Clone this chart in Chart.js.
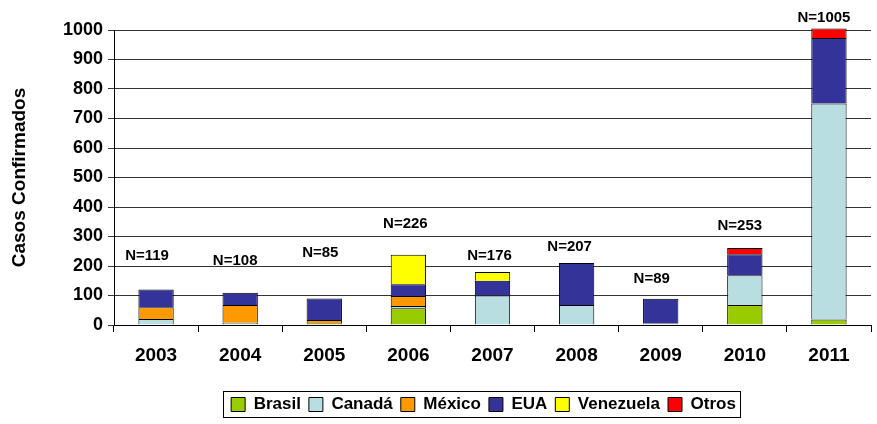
<!DOCTYPE html>
<html>
<head>
<meta charset="utf-8">
<script src="https://cdn.jsdelivr.net/npm/chart.js@4.4.1/dist/chart.umd.min.js"></script>
<style>
  html, body { margin: 0; padding: 0; background: #fff; }
  #wrap { width: 877px; height: 424px; }
</style>
</head>
<body>
<div id="wrap"><canvas id="c" width="877" height="424"></canvas></div>
<script>
const years = ['2003', '2004', '2005', '2006', '2007', '2008', '2009', '2010', '2011'];
const brasil    = [0, 0, 6, 57, 0, 0, 0, 68, 19];
const canada    = [20, 8, 0, 7, 100, 68, 5, 101, 732];
const mexico    = [40, 60, 11, 34, 0, 0, 0, 0, 0];
const eua       = [60, 41, 73, 40, 50, 142, 84, 71, 222];
const venezuela = [0, 0, 0, 100, 30, 0, 0, 0, 0];
const otros     = [0, 0, 0, 0, 0, 0, 0, 21, 32];
const nCases    = [119, 108, 85, 226, 176, 207, 89, 253, 1005];
const yTicks    = [0, 100, 200, 300, 400, 500, 600, 700, 800, 900, 1000];

const FONT = '"Liberation Sans", Arial, sans-serif';

const nLabelPlugin = {
  id: 'nLabels',
  afterDatasetsDraw(chart, args, opts) {
    const ctx = chart.ctx;
    const x = chart.scales.x, y = chart.scales.y;
    ctx.save();
    ctx.font = 'bold 15px ' + FONT;
    ctx.fillStyle = '#000';
    ctx.textAlign = 'center';
    ctx.textBaseline = 'middle';
    nCases.forEach((n, i) => {
      let total = 0;
      chart.data.datasets.forEach(ds => { total += ds.data[i]; });
      const px = x.getPixelForValue(i) + opts.dx[i];
      const py = y.getPixelForValue(total) - opts.dy[i];
      ctx.fillText('N=' + n, px, py);
    });
    ctx.restore();
  }
};

const legendBoxPlugin = {
  id: 'legendBox',
  afterLayout(chart, args, opts) {
    const lg = chart.legend;
    if (!lg) return;
    lg.left += opts.shift;
    lg.right += opts.shift;
  },
  afterDraw(chart) {
    const hb = chart.legend && chart.legend.legendHitBoxes;
    if (!hb || !hb.length) return;
    let l = Infinity, r = -Infinity, t = Infinity, b = -Infinity;
    hb.forEach(h => { l = Math.min(l, h.left); r = Math.max(r, h.left + h.width); t = Math.min(t, h.top); b = Math.max(b, h.top + h.height); });
    const ctx = chart.ctx;
    ctx.save();
    ctx.strokeStyle = '#000';
    ctx.lineWidth = 1;
    ctx.strokeRect(Math.round(l - 8) + 0.5, Math.round(t - 5) + 0.5, Math.round(r - l + 12), Math.round(b - t + 9));
    ctx.restore();
  }
};

const mk = (label, data, color) => ({
  label, data, backgroundColor: color, borderColor: '#000', borderWidth: 1, clip: false
});

new Chart(document.getElementById('c'), {
  type: 'bar',
  data: {
    labels: years,
    datasets: [
      mk('Brasil', brasil, '#99CC00'),
      mk('Canadá', canada, '#B8DEE2'),
      mk('México', mexico, '#FF9900'),
      mk('EUA', eua, '#333399'),
      mk('Venezuela', venezuela, '#FFFF00'),
      mk('Otros', otros, '#FF0000')
    ]
  },
  plugins: [nLabelPlugin, legendBoxPlugin],
  options: {
    responsive: false,
    animation: false,
    devicePixelRatio: 1,
    layout: { padding: { top: 30, right: 6, left: 0, bottom: 1 } },
    datasets: { bar: { categoryPercentage: 1, barPercentage: 0.42 } },
    plugins: {
      title: { display: false },
      tooltip: { enabled: false },
      legendBox: { shift: 48 },
      nLabels: {
        dx: [-9, -5, -4, -3, -3, -7, -9, -5, -5],
        dy: [34, 32, 46, 31, 16, 16, 20, 22, 11]
      },
      legend: {
        position: 'bottom',
        labels: {
          color: '#000',
          font: { family: FONT, size: 17, weight: 'bold' },
          boxWidth: 14, boxHeight: 14, padding: 8
        }
      }
    },
    scales: {
      x: {
        stacked: true,
        offset: true,
        grid: { display: true, offset: true, drawOnChartArea: false, drawTicks: true, tickLength: 7, color: '#000' },
        border: { display: true, color: '#000', width: 1 },
        ticks: { color: '#000', font: { family: FONT, size: 19, weight: 'bold' }, padding: 12, maxRotation: 0 },
        afterFit(s) { s.height = 63; }
      },
      y: {
        stacked: true,
        min: 0, max: 1000,
        afterBuildTicks(s) { s.ticks = yTicks.map(v => ({ value: v })); },
        grid: { color: '#333', lineWidth: 1, drawTicks: true, tickLength: 6 },
        border: { display: true, color: '#000', width: 1 },
        ticks: { color: '#000', font: { family: FONT, size: 18, weight: 'bold' }, padding: 5, callback: v => String(v) },
        title: { display: true, text: 'Casos Confirmados', color: '#000', font: { family: FONT, size: 19, weight: 'bold' }, padding: { top: 8, bottom: 12 } },
        afterFit(s) { s.width = 114; }
      }
    }
  }
});
</script>
</body>
</html>
